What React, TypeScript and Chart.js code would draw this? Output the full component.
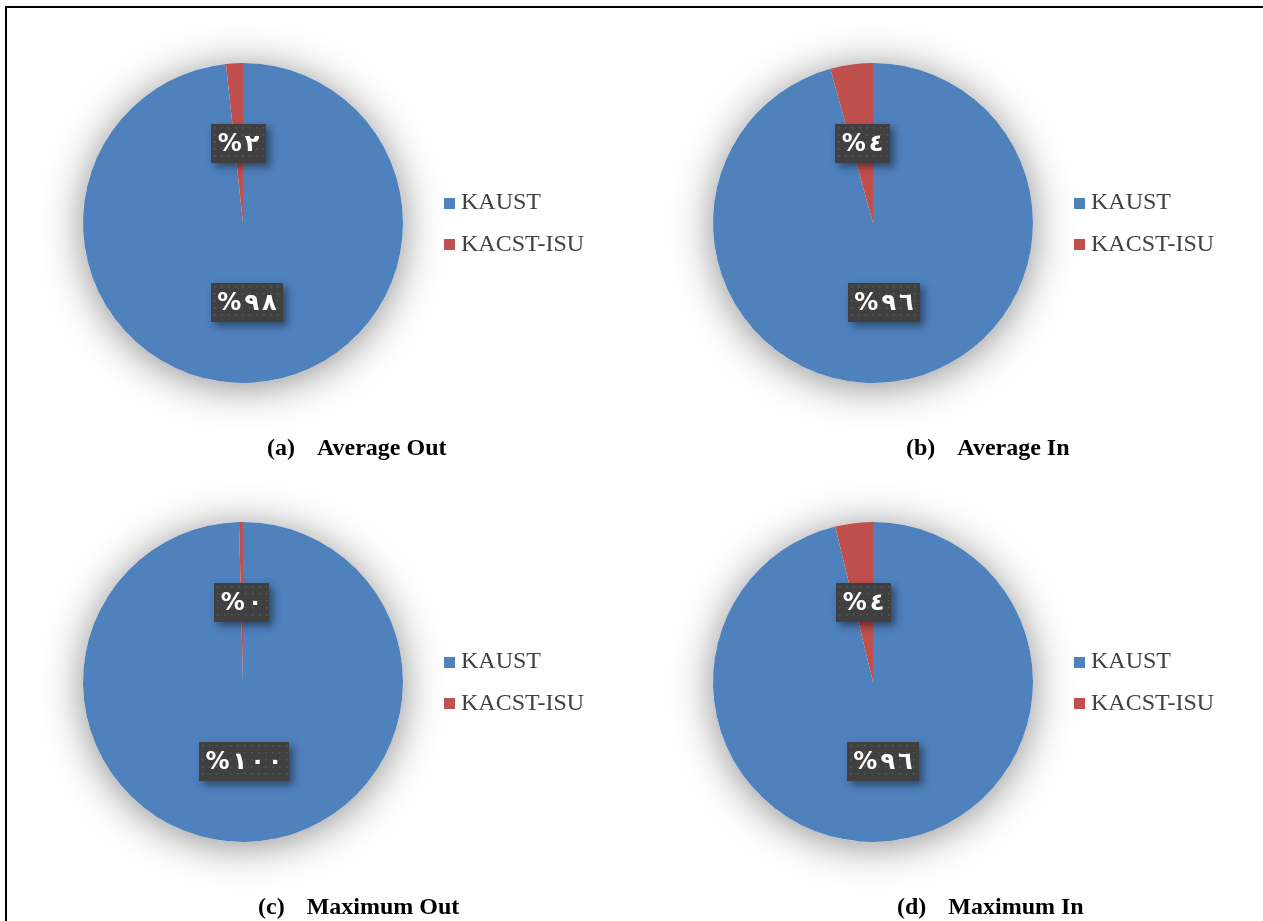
import React, { useEffect, useRef } from 'react';
import { Chart, registerables } from 'chart.js';

Chart.register(...registerables);

// ---- data ----
const categories = ['KAUST', 'KACST-ISU'];
const averageOut = [98.3, 1.7];
const averageIn = [95.7, 4.3];
const maximumOut = [99.6, 0.4];
const maximumIn = [96.2, 3.8];
const captionLetters = ['(a)', '(b)', '(c)', '(d)'];
const captionTitles = ['Average Out', 'Average In', 'Maximum Out', 'Maximum In'];
const sliceColors = ['#4F81BD', '#C0504D'];

const arabicDigits = '٠١٢٣٤٥٦٧٨٩';
const toArabic = (n: number) =>
  String(n)
    .split('')
    .map((c) => (c >= '0' && c <= '9' ? arabicDigits[+c] : c))
    .join('');

const shadowPlugin = {
  id: 'pieShadow',
  beforeDatasetsDraw(chart: any) {
    const meta = chart.getDatasetMeta(0);
    const arc = meta.data[0];
    if (!arc) return;
    const { x, y, outerRadius } = arc.getProps(['x', 'y', 'outerRadius'], true);
    const ctx = chart.ctx;
    ctx.save();
    ctx.shadowColor = 'rgba(0,0,0,0.45)';
    ctx.shadowBlur = 40;
    ctx.shadowOffsetX = 0;
    ctx.shadowOffsetY = 4;
    ctx.fillStyle = '#ffffff';
    ctx.beginPath();
    ctx.arc(x, y, outerRadius, 0, Math.PI * 2);
    ctx.fill();
    ctx.restore();
  },
};

const GAP = 3;

const labelPlugin = {
  id: 'boxLabels',
  afterDatasetsDraw(chart: any) {
    const ctx = chart.ctx;
    const ds = chart.data.datasets[0];
    const meta = chart.getDatasetMeta(0);
    meta.data.forEach((arc: any, i: number) => {
      const { x, y, startAngle, endAngle, outerRadius } = arc.getProps(
        ['x', 'y', 'startAngle', 'endAngle', 'outerRadius'],
        true
      );
      const mid = (startAngle + endAngle) / 2;
      const r = outerRadius * 0.5;
      const px = x + Math.cos(mid) * r;
      const py = y + Math.sin(mid) * r;
      const chars = ('%' + toArabic(Math.round(ds.data[i]))).split('');
      ctx.save();
      ctx.font = 'bold 24px "DejaVu Sans"';
      const widths = chars.map((c) => ctx.measureText(c).width);
      const w = widths.reduce((a, b) => a + b, 0) + GAP * (chars.length - 1);
      const bw = Math.round(w + 13);
      const bh = 39;
      const bx = Math.round(px - bw / 2);
      const by = Math.round(py - bh / 2);
      ctx.shadowColor = 'rgba(0,0,0,0.45)';
      ctx.shadowBlur = 8;
      ctx.shadowOffsetX = 4;
      ctx.shadowOffsetY = 4;
      ctx.fillStyle = '#404040';
      ctx.fillRect(bx, by, bw, bh);
      ctx.shadowColor = 'transparent';
      ctx.shadowBlur = 0;
      ctx.shadowOffsetX = 0;
      ctx.shadowOffsetY = 0;
      ctx.fillStyle = 'rgba(255,255,255,0.13)';
      for (let dx = 3; dx < bw - 1; dx += 7) {
        for (let dy = 3; dy < bh - 1; dy += 7) {
          ctx.fillRect(bx + dx, by + dy, 1.5, 1.5);
        }
      }
      ctx.fillStyle = '#ffffff';
      ctx.textAlign = 'left';
      ctx.textBaseline = 'middle';
      ctx.direction = 'ltr';
      let cxp = bx + (bw - w) / 2;
      chars.forEach((c, k) => {
        ctx.fillText(c, cxp, by + bh / 2 + 1);
        cxp += widths[k] + GAP;
      });
      ctx.restore();
    });
  },
};

function PiePanel({ values, cx, cy }: { values: number[]; cx: number; cy: number }) {
  const ref = useRef<HTMLCanvasElement | null>(null);
  useEffect(() => {
    if (!ref.current) return;
    const chart = new Chart(ref.current, {
      type: 'pie',
      data: {
        labels: categories,
        datasets: [{ data: values, backgroundColor: sliceColors, borderWidth: 0 }],
      },
      options: {
        responsive: false,
        animation: false,
        events: [],
        layout: { padding: 60 },
        plugins: { legend: { display: false }, tooltip: { enabled: false } },
      },
      plugins: [shadowPlugin, labelPlugin],
    } as any);
    return () => chart.destroy();
  }, []);
  return (
    <canvas
      ref={ref}
      width={440}
      height={440}
      style={{ position: 'absolute', left: cx - 220, top: cy - 220, width: 440, height: 440 }}
    />
  );
}

function Legend({ left, top }: { left: number; top: number }) {
  return (
    <>
      {categories.map((c, i) => (
        <React.Fragment key={c}>
          <div
            style={{
              position: 'absolute',
              left: left,
              top: top + 9 + i * 41,
              width: 11,
              height: 11,
              background: sliceColors[i],
            }}
          />
          <div
            style={{
              position: 'absolute',
              left: left + 17,
              top: top + i * 42,
              font: '24px "Liberation Serif", "Times New Roman", serif',
              lineHeight: '24px',
              color: '#404040',
              whiteSpace: 'nowrap',
            }}
          >
            {c}
          </div>
        </React.Fragment>
      ))}
    </>
  );
}

function Caption({ idx, left, top }: { idx: number; left: number; top: number }) {
  return (
    <div
      style={{
        position: 'absolute',
        left,
        top,
        font: 'bold 24px "Liberation Serif", "Times New Roman", serif',
        lineHeight: '24px',
        color: '#000',
        whiteSpace: 'nowrap',
      }}
    >
      <span>{captionLetters[idx]}</span>
      <span style={{ marginLeft: 22 }}>{captionTitles[idx]}</span>
    </div>
  );
}

export default function App() {
  return (
    <div
      style={{
        position: 'absolute',
        left: 0,
        top: 0,
        width: 1263,
        height: 921,
        overflow: 'hidden',
        background: '#fff',
      }}
    >
      <PiePanel values={averageOut} cx={243} cy={223} />
      <PiePanel values={averageIn} cx={873} cy={223} />
      <PiePanel values={maximumOut} cx={243} cy={682} />
      <PiePanel values={maximumIn} cx={873} cy={682} />
      <Legend left={444} top={189} />
      <Legend left={1074} top={189} />
      <Legend left={444} top={648} />
      <Legend left={1074} top={648} />
      <Caption idx={0} left={267} top={435} />
      <Caption idx={1} left={906} top={435} />
      <Caption idx={2} left={258} top={894} />
      <Caption idx={3} left={897} top={894} />
      <div
        style={{
          position: 'absolute',
          left: 5,
          top: 6,
          width: 1400,
          height: 1100,
          borderLeft: '2px solid #000',
          borderTop: '2px solid #000',
          pointerEvents: 'none',
        }}
      />
    </div>
  );
}
